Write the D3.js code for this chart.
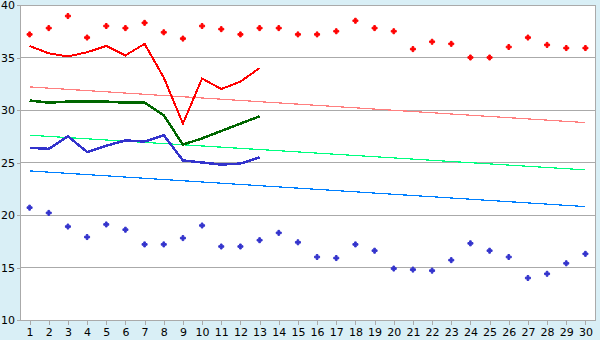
<!DOCTYPE html>
<html lang="en">
<head>
    <meta charset="UTF-8">
    <title>Chart</title>
    <script src="https://d3js.org/d3.v7.min.js"></script>
    <style>
        body { margin: 0; background: #d9eff6; }
        .axis text { font-family: "DejaVu Sans", sans-serif; font-size: 11px; fill: #000; }
        .axis path, .axis line { stroke: #aaa; shape-rendering: crispEdges; }
    </style>
</head>
<body>
    <div id="chart"></div>
    <script>
        var days = d3.range(1, 31);

        var redDots = [37.2, 37.8, 38.95, 36.9, 38.0, 37.8, 38.3, 37.4, 36.8, 38.0,
                       37.7, 37.2, 37.8, 37.8, 37.2, 37.2, 37.5, 38.5, 37.8, 37.5,
                       35.8, 36.5, 36.3, 35.0, 35.0, 36.0, 36.9, 36.2, 35.9, 35.9];
        var blueDots = [20.7, 20.2, 18.9, 17.9, 19.1, 18.6, 17.2, 17.2, 17.8, 19.0,
                        17.0, 17.0, 17.6, 18.3, 17.4, 16.0, 15.9, 17.2, 16.6, 14.9,
                        14.8, 14.7, 15.7, 17.3, 16.6, 16.0, 14.0, 14.4, 15.4, 16.3];
        var redLine = [36.1, 35.4, 35.1, 35.5, 36.1, 35.2, 36.3, 33.1, 28.7, 33.0, 32.0, 32.7, 34.0];
        var greenLine = [30.9, 30.7, 30.8, 30.8, 30.8, 30.7, 30.7, 29.5, 26.7, 27.3, 28.0, 28.7, 29.4];
        var blueLine = [26.4, 26.3, 27.5, 26.0, 26.6, 27.1, 27.0, 27.6, 25.2, 25.0, 24.8, 24.9, 25.5];
        // trend lines: [first day, last day] values
        var redTrend = [[1, 32.2], [30, 28.8]];
        var greenTrend = [[1, 27.6], [30, 24.3]];
        var blueTrend = [[1, 24.2], [30, 20.8]];
        var yTicks = [10, 15, 20, 25, 30, 35, 40];

        var W = 600, H = 340;
        var margin = { top: 5, right: 5, bottom: 20, left: 20 };
        var width = W - margin.left - margin.right,
            height = H - margin.top - margin.bottom;

        var svg = d3.select("#chart").append("svg")
            .attr("width", W).attr("height", H)
            .append("g")
            .attr("transform", "translate(" + margin.left + "," + margin.top + ")");

        var x = d3.scalePoint().domain(days).range([0, width]).padding(0.5);
        var y = d3.scaleLinear().domain([10, 40]).range([height, 0]);

        svg.append("rect")
            .attr("width", width).attr("height", height)
            .attr("fill", "#fff").attr("stroke", "#aaa")
            .style("shape-rendering", "crispEdges");

        svg.append("g")
            .selectAll("line")
            .data(yTicks)
            .enter().append("line")
            .attr("x1", 0).attr("x2", width)
            .attr("y1", function (d) { return y(d); })
            .attr("y2", function (d) { return y(d); })
            .attr("stroke", "#aaa")
            .style("shape-rendering", "crispEdges");

        var yAxis = svg.append("g").attr("class", "axis")
            .call(d3.axisLeft(y).tickValues(yTicks).tickSize(3).tickPadding(2));
        yAxis.select(".domain").attr("stroke", "#aaa");

        var xAxis = svg.append("g").attr("class", "axis")
            .attr("transform", "translate(0," + height + ")")
            .call(d3.axisBottom(x).tickSize(5).tickSizeOuter(0).tickPadding(3));

        var trendLine = d3.line()
            .x(function (d) { return x(d[0]); })
            .y(function (d) { return y(d[1]); });

        [[redTrend, "#ff8080"], [greenTrend, "#00ff80"], [blueTrend, "#0080ff"]].forEach(function (t) {
            svg.append("path")
                .attr("d", trendLine(t[0]))
                .attr("fill", "none")
                .attr("stroke", t[1])
                .attr("stroke-width", 1.2)
                .style("shape-rendering", "crispEdges");
        });

        var line = d3.line()
            .x(function (d, i) { return x(days[i]); })
            .y(function (d) { return y(d); });

        [[redLine, "#ff0000", 2], [greenLine, "#006600", 2.5], [blueLine, "#3333cc", 2.5]].forEach(function (s) {
            svg.append("path")
                .attr("d", line(s[0]))
                .attr("fill", "none")
                .attr("stroke", s[1])
                .attr("stroke-width", s[2])
                .style("shape-rendering", "crispEdges");
        });

        var cross = d3.symbol().type(d3.symbolCross).size(14);

        [[redDots, "#ff0000"], [blueDots, "#3333cc"]].forEach(function (s) {
            svg.append("g")
                .selectAll("path")
                .data(s[0])
                .enter().append("path")
                .attr("d", cross)
                .attr("transform", function (d, i) { return "translate(" + x(days[i]) + "," + y(d) + ")"; })
                .attr("fill", s[1])
                .attr("stroke", s[1])
                .attr("stroke-width", 1);
        });
    </script>
</body>
</html>
